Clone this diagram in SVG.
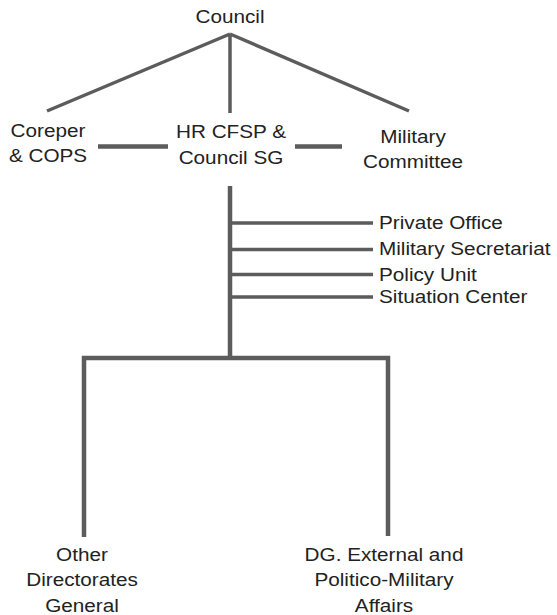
<svg xmlns="http://www.w3.org/2000/svg" width="557" height="615" viewBox="0 0 557 615">
<style>
  .t { font-family: "Liberation Sans", Arial, Helvetica, sans-serif; font-size: 18.5px; fill: #222; }
  .m { text-anchor: middle; }
  .s { text-anchor: start; }
  .c { stroke: #5c5c5c; stroke-width: 3.5; fill: none; stroke-linecap: butt; }
  .k { stroke-width: 4.5; }
</style>
<rect width="557" height="615" fill="#fff"/>
<g id="connectors">
  <path class="c" d="M230 34 L47 111 M230 34 L409 111 M230 34 L230 113"/>
  <path class="c k" d="M98 146.5 H168 M295 146.5 H342"/>
  <path class="c k" d="M230 186 V358"/>
  <path class="c" d="M230 223 H373 M230 249.5 H373 M230 274.5 H373 M230 297 H373"/>
  <path class="c k" d="M84 537 V358 H388 V536"/>
</g>
<g id="council"><text class="t m" transform="translate(230,23) scale(1.12,1)">Council</text></g>
<g id="coreper">
  <text class="t m" transform="translate(48,137) scale(1.12,1)">Coreper</text>
  <text class="t m" transform="translate(48,162) scale(1.12,1)">&amp; COPS</text>
</g>
<g id="hr">
  <text class="t m" transform="translate(231,138) scale(1.12,1)">HR CFSP &amp;</text>
  <text class="t m" transform="translate(231,164) scale(1.12,1)">Council SG</text>
</g>
<g id="military-committee">
  <text class="t m" transform="translate(413,143) scale(1.12,1)">Military</text>
  <text class="t m" transform="translate(413,168) scale(1.12,1)">Committee</text>
</g>
<g id="private-office"><text class="t s" transform="translate(379,229) scale(1.12,1)">Private Office</text></g>
<g id="military-secretariat"><text class="t s" transform="translate(379,255) scale(1.12,1)">Military Secretariat</text></g>
<g id="policy-unit"><text class="t s" transform="translate(379,281) scale(1.12,1)">Policy Unit</text></g>
<g id="situation-center"><text class="t s" transform="translate(379,303) scale(1.12,1)">Situation Center</text></g>
<g id="other-dg">
  <text class="t m" transform="translate(82,561) scale(1.12,1)">Other</text>
  <text class="t m" transform="translate(82,586) scale(1.12,1)">Directorates</text>
  <text class="t m" transform="translate(82,611.5) scale(1.12,1)">General</text>
</g>
<g id="dg-external">
  <text class="t m" transform="translate(384,561) scale(1.12,1)">DG. External and</text>
  <text class="t m" transform="translate(384,586) scale(1.12,1)">Politico-Military</text>
  <text class="t m" transform="translate(384,611.5) scale(1.12,1)">Affairs</text>
</g>
</svg>
